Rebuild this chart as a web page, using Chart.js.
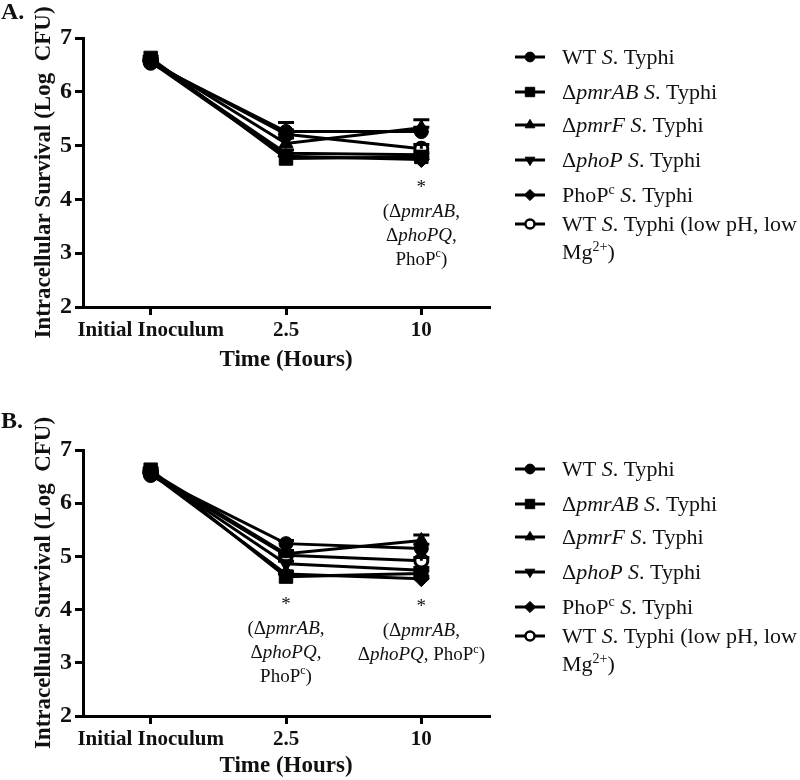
<!DOCTYPE html>
<html>
<head>
<meta charset="utf-8">
<script src="https://cdn.jsdelivr.net/npm/chart.js@4/dist/chart.umd.min.js"></script>
<style>
  body { margin: 0; background: #fff; width: 800px; height: 780px; position: relative; overflow: hidden; }
  canvas { position: absolute; left: 0; }
</style>
</head>
<body>
<canvas id="chartA" width="800" height="380" style="top:0"></canvas>
<canvas id="chartB" width="800" height="380" style="top:400px"></canvas>
<script>
// categories / series
const timeLabels = ['Initial Inoculum', '2.5', '10'];
// _x_ = italic, ^x^ = superscript, \n = new line
const strainLabels = [
  'WT _S_. Typhi',
  'Δ_pmrAB S_. Typhi',
  'Δ_pmrF S_. Typhi',
  'Δ_phoP S_. Typhi',
  'PhoP^c^ _S_. Typhi',
  'WT _S_. Typhi (low pH, low\nMg^2+^)'
];

// panel A: mean log CFU, upper error
const meansA = [
  [6.53, 5.26, 5.26],
  [6.63, 4.76, 4.79],
  [6.59, 5.04, 5.33],
  [6.57, 4.86, 4.83],
  [6.56, 4.80, 4.74],
  [6.55, 5.21, 4.94]
];
const errA = [
  [0.04, 0.17, 0.08],
  [0.03, 0.05, 0.05],
  [0.03, 0.10, 0.15],
  [0.03, 0.06, 0.05],
  [0.03, 0.05, 0.04],
  [0.03, 0.08, 0.08]
];

// panel B
const meansB = [
  [6.52, 5.24, 5.15],
  [6.63, 4.62, 4.68],
  [6.59, 5.05, 5.30],
  [6.57, 4.86, 4.74],
  [6.56, 4.67, 4.58],
  [6.55, 5.02, 4.92]
];
const errB = [
  [0.04, 0.06, 0.08],
  [0.03, 0.05, 0.05],
  [0.03, 0.06, 0.10],
  [0.03, 0.05, 0.05],
  [0.03, 0.05, 0.04],
  [0.03, 0.06, 0.06]
];

// significance notes: category index + text lines
const notesA = [
  { at: 2, lines: ['(Δ_pmrAB_,', 'Δ_phoPQ_,', 'PhoP^c^)'] }
];
const notesB = [
  { at: 1, lines: ['(Δ_pmrAB_,', 'Δ_phoPQ_,', 'PhoP^c^)'] },
  { at: 2, lines: ['(Δ_pmrAB_,', 'Δ_phoPQ_, PhoP^c^)'] }
];

const yTicks = [2, 3, 4, 5, 6, 7];

// marker look per strain
const markers = [
  { style: 'circle', rot: 0, r: 7, fill: '#000' },
  { style: 'rect', rot: 0, r: 9.5, fill: '#000' },
  { style: 'triangle', rot: 0, r: 8, fill: '#000' },
  { style: 'triangle', rot: 180, r: 8, fill: '#000' },
  { style: 'rectRot', rot: 0, r: 8, fill: '#000' },
  { style: 'circle', rot: 0, r: 6.5, fill: '#fff' }
];

const SERIF = '"Liberation Serif", "Times New Roman", serif';
const INK = '#111';

function parseRich(str) {
  const segs = [];
  let cur = '', it = false, sup = false;
  for (const ch of str) {
    if (ch === '_' || ch === '^') {
      if (cur) segs.push({ t: cur, it, sup });
      cur = '';
      if (ch === '_') it = !it; else sup = !sup;
    } else cur += ch;
  }
  if (cur) segs.push({ t: cur, it, sup });
  return segs;
}

function segFont(s, size) {
  return (s.it ? 'italic ' : '') + (s.sup ? Math.round(size * 0.62) : size) + 'px ' + SERIF;
}

function drawRich(ctx, str, x, y, size, align) {
  const segs = parseRich(str);
  let w = 0;
  segs.forEach(s => { ctx.font = segFont(s, size); w += ctx.measureText(s.t).width; });
  let cx = align === 'center' ? x - w / 2 : x;
  ctx.textAlign = 'left';
  ctx.textBaseline = 'alphabetic';
  segs.forEach(s => {
    ctx.font = segFont(s, size);
    ctx.fillText(s.t, cx, s.sup ? y - size * 0.38 : y);
    cx += ctx.measureText(s.t).width;
  });
}

// upper error bars with caps
const errorBars = {
  id: 'errorBars',
  afterDatasetsDraw(chart) {
    const ctx = chart.ctx, ys = chart.scales.y, xs = chart.scales.x;
    ctx.save();
    ctx.strokeStyle = '#000';
    ctx.lineWidth = 3;
    chart.data.datasets.forEach(ds => {
      ds.data.forEach((v, i) => {
        const e = ds.errors[i];
        if (!e) return;
        const x = xs.getPixelForValue(i);
        const y0 = ys.getPixelForValue(v), y1 = ys.getPixelForValue(v + e);
        ctx.beginPath();
        ctx.moveTo(x, y0); ctx.lineTo(x, y1);
        ctx.moveTo(x - 8, y1); ctx.lineTo(x + 8, y1);
        ctx.stroke();
      });
    });
    ctx.restore();
  }
};

// notes under the points, legend, panel letter
const extras = {
  id: 'extras',
  afterDraw(chart, args, opts) {
    const ctx = chart.ctx, ys = chart.scales.y, xs = chart.scales.x;
    ctx.save();
    ctx.fillStyle = INK;

    ctx.font = 'bold 24px ' + SERIF;
    ctx.textAlign = 'left';
    ctx.textBaseline = 'alphabetic';
    ctx.fillText(opts.letter, 1, opts.letterY);

    opts.notes.forEach(n => {
      const x = xs.getPixelForValue(n.at);
      const low = Math.min(...chart.data.datasets.map(ds => ds.data[n.at]));
      const yStar = ys.getPixelForValue(low) + 24;
      ctx.font = '19px ' + SERIF;
      ctx.textAlign = 'center';
      ctx.fillText('*', x, yStar + 9);
      n.lines.forEach((ln, k) => drawRich(ctx, ln, x, yStar + 33 + k * 24, 19, 'center'));
    });

    const lx = 515, tx = 562;
    chart.data.datasets.forEach((ds, i) => {
      const y = opts.legendRows[i];
      ctx.strokeStyle = '#000';
      ctx.lineWidth = 3;
      ctx.beginPath(); ctx.moveTo(lx, y); ctx.lineTo(lx + 30, y); ctx.stroke();
      const m = markers[i];
      ctx.fillStyle = m.fill;
      ctx.lineWidth = m.fill === '#fff' ? 2.5 : 1;
      Chart.helpers.drawPoint(ctx, { pointStyle: m.style, rotation: m.rot, radius: m.r * 0.7, borderWidth: ctx.lineWidth }, lx + 15, y);
      ctx.fillStyle = INK;
      ds.label.split('\n').forEach((ln, k) => drawRich(ctx, ln, tx, y + 7 + k * 28, 22, 'left'));
    });
    ctx.restore();
  }
};

function makePanel(id, means, errs, notes, box) {
  return new Chart(document.getElementById(id), {
    type: 'line',
    data: {
      labels: timeLabels,
      datasets: strainLabels.map((name, i) => ({
        label: name,
        data: means[i],
        errors: errs[i],
        borderColor: '#000',
        borderWidth: 3,
        backgroundColor: markers[i].fill,
        pointBackgroundColor: markers[i].fill,
        pointBorderColor: '#000',
        pointBorderWidth: markers[i].fill === '#fff' ? 3 : 1,
        pointStyle: markers[i].style,
        pointRotation: markers[i].rot,
        pointRadius: markers[i].r,
        pointHoverRadius: markers[i].r,
        tension: 0,
        fill: false
      }))
    },
    options: {
      responsive: false,
      animation: false,
      events: [],
      layout: { padding: { top: box.top, right: 311, left: 0, bottom: 0 } },
      plugins: {
        legend: { display: false },
        tooltip: { enabled: false },
        extras: { letter: box.letter, letterY: box.letterY, notes: notes, legendRows: box.rows }
      },
      scales: {
        x: {
          offset: true,
          grid: { drawOnChartArea: false, color: '#000', lineWidth: 3, tickLength: 8 },
          border: { color: '#000', width: 3 },
          ticks: { color: INK, padding: 3, maxRotation: 0, autoSkip: false, font: { family: SERIF, size: 21, weight: 'bold' } },
          title: { display: true, text: 'Time (Hours)', color: INK, padding: { top: 0, bottom: box.xtPad }, font: { family: SERIF, size: 23, weight: 'bold' } },
          afterFit: s => { s.height = box.xh; }
        },
        y: {
          min: 2, max: 7,
          afterBuildTicks: s => { s.ticks = yTicks.map(v => ({ value: v })); },
          grid: { drawOnChartArea: false, color: '#000', lineWidth: 3, tickLength: 8 },
          border: { color: '#000', width: 3 },
          ticks: { color: INK, padding: 3, font: { family: SERIF, size: 24, weight: 'bold' } },
          title: { display: true, text: 'Intracellular Survival (Log  CFU)', color: INK, padding: { top: 30, bottom: 0 }, font: { family: SERIF, size: 23, weight: 'bold' } },
          afterFit: s => { s.width = 83; }
        }
      }
    },
    plugins: [errorBars, extras]
  });
}

makePanel('chartA', meansA, errA, notesA, {
  letter: 'A.', letterY: 19, top: 38, xh: 73, xtPad: 6,
  rows: [57, 92, 125, 160, 195, 224]
});
makePanel('chartB', meansB, errB, notesB, {
  letter: 'B.', letterY: 28, top: 50, xh: 64, xtPad: 0,
  rows: [69, 104, 137, 172, 207, 236]
});
</script>
</body>
</html>
